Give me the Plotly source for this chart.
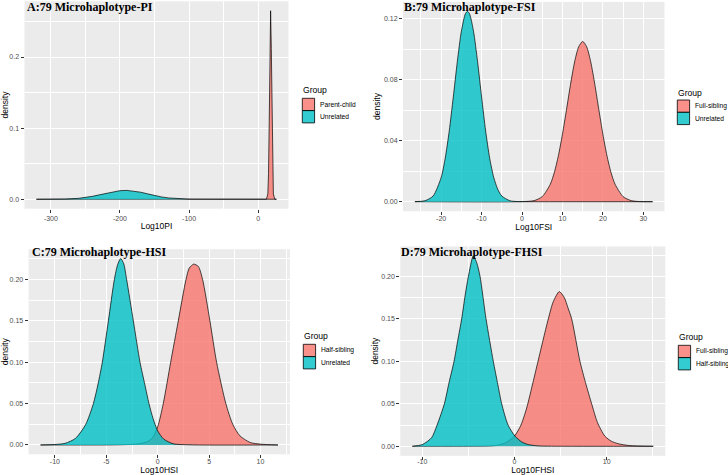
import plotly.graph_objects as go

# ---------------- data ----------------
# Panel A: Log10PI
a_x_pc = [-321, 0, 10, 12, 14, 15, 16, 17, 18, 19, 20, 21, 22, 24, 26.5]
a_y_pc = [0, 0, 0, 0.0001, 0.0075, 0.036, 0.109, 0.212, 0.265, 0.212, 0.109, 0.036, 0.0075, 0.0001, 0]
a_x_un = [-321, -300, -280, -260, -250, -240, -230, -220, -210, -200, -190, -180, -170, -160,
          -150, -140, -130, -120, -110, -100, -90, -80, -60, 26.5]
a_y_un = [0, 0.00004, 0.0003, 0.0013, 0.0024, 0.0041, 0.0062, 0.0085, 0.0107, 0.0121, 0.0125,
          0.0117, 0.0099, 0.0076, 0.0053, 0.0033, 0.0019, 0.0010, 0.0005, 0.0002, 0.0001, 0.00003, 0, 0]
a_xticks = [-300, -200, -100, 0]
a_xticklabels = ["-300", "-200", "-100", "0"]
a_yticks = [0.0, 0.1, 0.2]
a_yticklabels = ["0.0", "0.1", "0.2"]

# Panel B: Log10FSI
b_x_fs = [-26.5, 0, 3, 5, 7, 8, 9, 10, 11, 12, 13, 14, 15, 16, 17, 18, 19, 20, 21, 22, 23, 25, 27, 29, 32.3]
b_y_fs = [0, 0.00004, 0.0007, 0.0033, 0.0115, 0.0192, 0.0302, 0.0442, 0.0603, 0.0769, 0.0915, 0.1014,
          0.105, 0.1014, 0.0915, 0.0769, 0.0603, 0.0442, 0.0302, 0.0192, 0.0115, 0.0033, 0.0007, 0.00007, 0]
b_x_un = [-26.5, -24, -22, -20, -19, -18, -17, -16, -15, -14, -13.5, -13, -12, -11, -10, -9, -8, -7,
          -6, -5, -3, -1, 1, 32.3]
b_y_un = [0.00003, 0.0006, 0.0037, 0.0159, 0.0285, 0.0464, 0.0686, 0.0919, 0.1117, 0.1232, 0.1247,
          0.1232, 0.1117, 0.0919, 0.0686, 0.0464, 0.0285, 0.0159, 0.0081, 0.0037, 0.0006, 0.00006, 0, 0]
b_xticks = [-20, -10, 0, 10, 20, 30]
b_xticklabels = ["-20", "-10", "0", "10", "20", "30"]
b_yticks = [0.0, 0.04, 0.08, 0.12]
b_yticklabels = ["0.00", "0.04", "0.08", "0.12"]

# Panel C: Log10HSI
c_x_hs = [-11.4, -4, -2, -1, -0.5, 0, 0.54, 1.26, 2.0, 2.75, 3.07, 3.5, 3.95, 4.37, 5.08, 5.73, 6.63,
          7.3, 8.0, 9.0, 10, 11.7]
c_y_hs = [0, 0.0002, 0.0012, 0.004, 0.009, 0.022, 0.050, 0.100, 0.150, 0.200, 0.214, 0.2187, 0.216,
          0.200, 0.150, 0.100, 0.050, 0.025, 0.011, 0.003, 0.001, 0]
c_x_un = [-11.4, -10, -9, -8, -7, -6.26, -5.8, -5.39, -4.8, -4.22, -3.9, -3.6, -3.3, -3.02, -2.37,
          -1.72, -1.25, -0.85, -0.45, 0.0, 0.6, 1.5, 3, 11.7]
c_y_un = [0, 0.0006, 0.002, 0.008, 0.025, 0.050, 0.074, 0.100, 0.150, 0.200, 0.218, 0.2255, 0.219,
          0.200, 0.150, 0.100, 0.073, 0.050, 0.032, 0.017, 0.007, 0.0015, 0.0002, 0]
c_xticks = [-10, -5, 0, 5, 10]
c_xticklabels = ["-10", "-5", "0", "5", "10"]
c_yticks = [0.0, 0.05, 0.10, 0.15, 0.20]
c_yticklabels = ["0.00", "0.05", "0.10", "0.15", "0.20"]

# Panel D: Log10FHSI
d_x_fs = [-11.08, -3, -2, -1, 0, 0.7, 1.32, 2.0, 2.55, 3.1, 3.67, 4.2, 4.86, 5.4, 5.8, 6.2, 7.1, 7.7,
          8.37, 9.0, 9.8, 10.5, 11.26, 12.5, 15.05]
d_y_fs = [0, 0.0003, 0.001, 0.004, 0.012, 0.025, 0.045, 0.075, 0.100, 0.125, 0.150, 0.170, 0.182,
          0.175, 0.163, 0.150, 0.100, 0.075, 0.050, 0.028, 0.012, 0.006, 0.003, 0.0008, 0]
d_x_hs = [-11.08, -10, -9, -8.4, -7.61, -7.1, -6.56, -6.15, -5.73, -5.35, -5.0, -4.47, -4.1, -3.74,
          -3.09, -2.3, -1.85, -1.39, -0.7, 0.05, 0.8, 1.5, 2.5, 4, 15.05]
d_y_hs = [0, 0.002, 0.010, 0.025, 0.050, 0.075, 0.100, 0.125, 0.150, 0.178, 0.200, 0.224, 0.216,
          0.200, 0.150, 0.100, 0.075, 0.050, 0.025, 0.012, 0.005, 0.002, 0.0005, 0.0001, 0]
d_xticks = [-10, 0, 10]
d_xticklabels = ["-10", "0", "10"]
d_yticks = [0.0, 0.05, 0.10, 0.15, 0.20]
d_yticklabels = ["0.00", "0.05", "0.10", "0.15", "0.20"]

titles = ["A:79 Microhaplotype-PI", "B:79 Microhaplotype-FSI",
          "C:79 Microhaplotype-HSI", "D:79 Microhaplotype-FHSI"]
xtitles = ["Log10PI", "Log10FSI", "Log10HSI", "Log10FHSI"]
legend_title = "Group"
groups = [("Parent-child", "Unrelated"), ("Full-sibling", "Unrelated"),
          ("Half-sibling", "Unrelated"), ("Full-sibling", "Half-sibling")]

# ---------------- styling ----------------
W, H = 728, 475
PINK = "rgba(248,118,109,0.8)"
CYAN = "rgba(0,191,196,0.8)"
SANS = "Liberation Sans, Arial, sans-serif"
SERIF = "Liberation Serif, Times New Roman, serif"


def px(v):
    return v / W


def py(v):
    return (H - v) / H


panels = [
    dict(xs=(a_x_pc, a_x_un), ys=(a_y_pc, a_y_un), xt=a_xticks, xl=a_xticklabels, yt=a_yticks,
         yl=a_yticklabels, xr=[-338.2, 43.9], yr=[-0.01325, 0.2783], xminor=(0, 50), yminor=(0, 0.05),
         xdom=[px(24.5), px(288.5)], ydom=[py(208.7), py(1.3)],
         title_xy=(25.0, 6.8), leg_x=302.3, leg_title_y=90, leg_key_top=98.3, spline=False,
         ystand=4, xlabstand=0, xstand=1),
    dict(xs=(b_x_fs, b_x_un), ys=(b_y_fs, b_y_un), xt=b_xticks, xl=b_xticklabels, yt=b_yticks,
         yl=b_yticklabels, xr=[-29.44, 35.24], yr=[-0.00624, 0.1309], xminor=(0, 5), yminor=(0, 0.02),
         xdom=[px(403), px(664.5)], ydom=[py(211.2), py(1.9)],
         title_xy=(401.8, 6.8), leg_x=677.3, leg_title_y=93.3, leg_key_top=100, spline=True,
         ystand=1, xlabstand=-3, xstand=0),
    dict(xs=(c_x_hs, c_x_un), ys=(c_y_hs, c_y_un), xt=c_xticks, xl=c_xticklabels, yt=c_yticks,
         yl=c_yticklabels, xr=[-12.56, 12.86], yr=[-0.01128, 0.2368], xminor=(0, 2.5), yminor=(0, 0.025),
         xdom=[px(28.6), px(289.9)], ydom=[py(454.3), py(249.2)],
         title_xy=(30.0, 252), leg_x=303.3, leg_title_y=336.3, leg_key_top=344.3, spline=True,
         ystand=4, xlabstand=-3, xstand=0),
    dict(xs=(d_x_fs, d_x_hs), ys=(d_y_fs, d_y_hs), xt=d_xticks, xl=d_xticklabels, yt=d_yticks,
         yl=d_yticklabels, xr=[-12.39, 16.36], yr=[-0.0112, 0.2352], xminor=(0, 5), yminor=(0, 0.025),
         xdom=[px(400.3), px(665.3)], ydom=[py(455.8), py(246.4)],
         title_xy=(399.2, 252), leg_x=678.3, leg_title_y=337, leg_key_top=345.3, spline=True,
         ystand=1, xlabstand=-4, xstand=0),
]

KEY = 12.3  # legend key size in px

fig = go.Figure()
layout = {}
annotations = []
shapes = []

for i, p in enumerate(panels):
    n = "" if i == 0 else str(i + 1)
    xa, ya = "x" + n, "y" + n
    colors = (PINK, CYAN)
    for k in range(2):
        fig.add_trace(go.Scatter(
            x=p["xs"][k], y=p["ys"][k], mode="lines", fill="tozeroy", fillcolor=colors[k],
            line=dict(color="black", width=0.7, shape="spline" if p["spline"] else "linear",
                      smoothing=0.7),
            showlegend=False, hoverinfo="skip", xaxis=xa, yaxis=ya, name=groups[i][k]))

    tickfont = dict(family=SANS, size=7, color="#4D4D4D")
    layout["xaxis" + n] = dict(
        domain=p["xdom"], anchor=ya, range=p["xr"], tickmode="array", tickvals=p["xt"],
        ticktext=p["xl"], ticks="outside", ticklen=3, tickwidth=0.8, tickcolor="#333333",
        ticklabelstandoff=p["xlabstand"],
        tickfont=tickfont, showgrid=True, gridcolor="white", gridwidth=1.1, zeroline=False,
        showline=False, minor=dict(tickmode="linear", tick0=p["xminor"][0], dtick=p["xminor"][1],
                                   showgrid=True, gridcolor="white", gridwidth=0.55),
        title=dict(text=xtitles[i], font=dict(family=SANS, size=8.5, color="black"),
                   standoff=p["xstand"]),
        fixedrange=True)
    layout["yaxis" + n] = dict(
        domain=p["ydom"], anchor=xa, range=p["yr"], tickmode="array", tickvals=p["yt"],
        ticktext=p["yl"], ticks="outside", ticklen=3, tickwidth=0.8, tickcolor="#333333",
        tickfont=tickfont, showgrid=True, gridcolor="white", gridwidth=1.1, zeroline=False,
        showline=False, minor=dict(tickmode="linear", tick0=p["yminor"][0], dtick=p["yminor"][1],
                                   showgrid=True, gridcolor="white", gridwidth=0.55),
        title=dict(text="density", font=dict(family=SANS, size=8.5, color="black"),
                   standoff=p["ystand"]),
        fixedrange=True)

    # panel title
    annotations.append(dict(
        text="<b>" + titles[i] + "</b>", x=px(p["title_xy"][0]), y=py(p["title_xy"][1]),
        xref="paper", yref="paper", xanchor="left", yanchor="middle", showarrow=False,
        font=dict(family=SERIF, size=12, color="black")))

    # legend (ggplot style): title, keys and labels
    lx = p["leg_x"]
    annotations.append(dict(
        text=legend_title, x=px(lx - 1.5), y=py(p["leg_title_y"]), xref="paper", yref="paper",
        xanchor="left", yanchor="middle", showarrow=False,
        font=dict(family=SANS, size=8.6, color="black")))
    for k in range(2):
        top = p["leg_key_top"] + k * KEY
        shapes.append(dict(
            type="rect", xref="paper", yref="paper", x0=px(lx), x1=px(lx + KEY),
            y0=py(top + KEY), y1=py(top), fillcolor=colors[k],
            line=dict(color="black", width=0.8), layer="above"))
        annotations.append(dict(
            text=groups[i][k], x=px(lx + KEY + 3.5), y=py(top + KEY / 2), xref="paper",
            yref="paper", xanchor="left", yanchor="middle", showarrow=False,
            font=dict(family=SANS, size=6.7, color="black")))

fig.update_layout(**layout)
fig.update_layout(
    width=W, height=H, margin=dict(l=0, r=0, t=0, b=0, autoexpand=False),
    paper_bgcolor="white", plot_bgcolor="#EBEBEB", annotations=annotations, shapes=shapes,
    showlegend=False)

fig.write_html("out.html", config={"displayModeBar": False},
               post_script="document.body.style.margin='0px';")
